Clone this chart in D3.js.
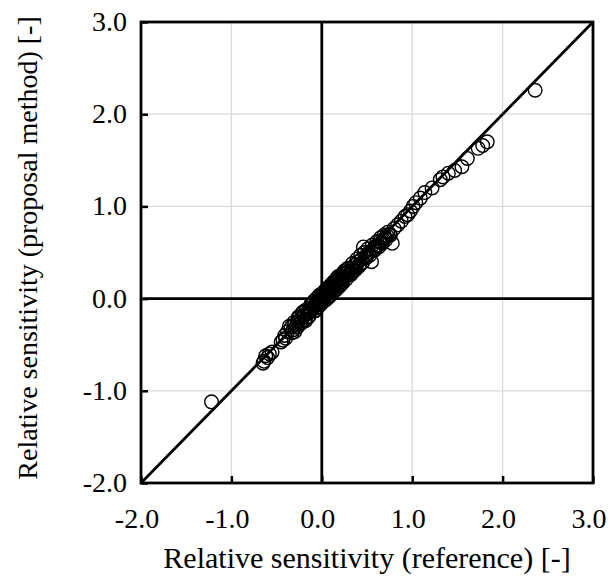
<!DOCTYPE html>
<html>
<head>
<meta charset="utf-8">
<script src="https://cdn.jsdelivr.net/npm/d3@7"></script>
<style>
  body { margin: 0; background: #fff; }
</style>
</head>
<body>
<svg id="chart" width="611" height="577"></svg>
<script>
// relative sensitivity, reference (x) vs proposal method (y)
let xRef = [-1.22, -0.64, -0.62, -0.60, -0.58, -0.55, -0.65, -0.45, -0.43, -0.41, -0.40, -0.38, -0.34, -0.32, -0.30,
    -0.28, -0.26, -0.24, -0.22, -0.20, -0.18, -0.16, -0.15, -0.13, -0.12, -0.10, -0.09, -0.08, -0.07, -0.06,
    -0.05, -0.04, -0.03, -0.02, -0.01, 0.00, 0.01, 0.02, 0.03, 0.04, 0.05, 0.06, 0.07, 0.08, 0.09,
    0.10, 0.11, 0.12, 0.13, 0.14, 0.15, 0.16, 0.18, 0.19, 0.20, 0.22, 0.23, 0.25, 0.26, 0.28,
    0.30, 0.31, 0.33, 0.35, 0.36, 0.38, 0.40, 0.42, 0.44, 0.46, 0.48, 0.50, 0.52, 0.55, 0.57,
    0.58, 0.60, 0.62, 0.64, 0.66, 0.68, 0.70, 0.72, 0.75, 0.78, 0.80, 0.84, 0.88, 0.92, 0.95,
    0.98, 1.01, 1.04, 1.09, 1.14, 1.22, 1.31, 1.34, 1.40, 1.47, 1.55, 1.61, 1.73, 1.78, 1.83, 2.36,
    -0.20, -0.15, -0.10, -0.05, 0.00, 0.05, 0.10, 0.15, 0.20, 0.25, -0.12, -0.02, 0.08, 0.18,
    -0.36, -0.33, -0.31, -0.27, -0.25, -0.23, -0.21, -0.19, -0.17, -0.14, -0.11, -0.08, -0.06, -0.04,
    -0.03, -0.01, 0.01, 0.02, 0.04, 0.06, 0.07, 0.09, 0.11, 0.12, 0.14, 0.16, 0.17, 0.19,
    0.21, 0.22, 0.24, 0.27, 0.29, 0.32, 0.34, 0.37, 0.39, 0.41, 0.43, 0.45, 0.47, 0.49,
    0.51, 0.53, 0.56, 0.59, 0.61, 0.63, 0.65, 0.67, 0.69, 0.71, 0.73, 0.76,
    -0.30, -0.22, -0.18, -0.09, -0.07, 0.03, 0.08, 0.13, 0.23, 0.28, 0.33, -0.26, 0.18, 0.05];
let yProp = [-1.12, -0.68, -0.62, -0.64, -0.60, -0.58, -0.70, -0.47, -0.45, -0.40, -0.43, -0.36, -0.31, -0.34, -0.28,
    -0.29, -0.25, -0.26, -0.21, -0.19, -0.17, -0.15, -0.16, -0.12, -0.13, -0.09, -0.10, -0.07, -0.08, -0.05,
    -0.06, -0.03, -0.04, -0.01, -0.02, 0.00, 0.02, 0.01, 0.04, 0.03, 0.06, 0.05, 0.08, 0.06, 0.10,
    0.08, 0.12, 0.10, 0.14, 0.12, 0.17, 0.14, 0.19, 0.16, 0.22, 0.20, 0.24, 0.22, 0.27, 0.25,
    0.30, 0.27, 0.33, 0.31, 0.36, 0.34, 0.40, 0.37, 0.43, 0.56, 0.45, 0.47, 0.50, 0.40, 0.52,
    0.55, 0.57, 0.58, 0.62, 0.61, 0.64, 0.66, 0.68, 0.70, 0.60, 0.76, 0.80, 0.84, 0.89, 0.91,
    0.95, 1.00, 1.04, 1.09, 1.15, 1.20, 1.29, 1.32, 1.36, 1.39, 1.43, 1.52, 1.63, 1.66, 1.70, 2.26,
    -0.14, -0.20, -0.05, -0.10, 0.05, -0.01, 0.15, 0.09, 0.14, 0.30, -0.06, 0.04, 0.02, 0.24,
    -0.30, -0.37, -0.26, -0.31, -0.20, -0.27, -0.15, -0.23, -0.12, -0.19, -0.06, -0.13, 0.00, -0.09,
    0.03, -0.06, 0.06, -0.03, 0.09, 0.01, 0.12, 0.04, 0.15, 0.07, 0.19, 0.10, 0.22, 0.13,
    0.25, 0.17, 0.28, 0.21, 0.33, 0.26, 0.38, 0.31, 0.43, 0.35, 0.47, 0.39, 0.50, 0.44,
    0.54, 0.47, 0.58, 0.53, 0.62, 0.56, 0.66, 0.60, 0.69, 0.64, 0.72, 0.69,
    -0.36, -0.16, -0.24, -0.03, -0.13, 0.08, 0.02, 0.18, 0.17, 0.32, 0.28, -0.20, 0.23, 0.10];
let tickValues = [-2, -1, 0, 1, 2, 3];
let xTitle = "Relative sensitivity (reference) [-]";
let yTitle = "Relative sensitivity (proposal method) [-]";

let fontFamily = "'Liberation Serif', 'Times New Roman', 'DejaVu Serif', serif";
let svg = d3.select("#chart");
let plotLeft = 141, plotRight = 593, plotTop = 22, plotBottom = 483;

let xScale = d3.scaleLinear().domain([-2, 3]).range([plotLeft, plotRight]);
let yScale = d3.scaleLinear().domain([-2, 3]).range([plotBottom, plotTop]);

// light gridlines
svg.selectAll(".vgrid")
    .data(tickValues)
    .enter()
    .append("line")
    .attr("x1", d => xScale(d)).attr("x2", d => xScale(d))
    .attr("y1", plotTop).attr("y2", plotBottom)
    .attr("stroke", "#d9d9d9")
    .attr("stroke-width", 1.3);
svg.selectAll(".hgrid")
    .data(tickValues)
    .enter()
    .append("line")
    .attr("x1", plotLeft).attr("x2", plotRight)
    .attr("y1", d => yScale(d)).attr("y2", d => yScale(d))
    .attr("stroke", "#d9d9d9")
    .attr("stroke-width", 1.3);

// axes with inside ticks, labels drawn separately
let xAxis = svg.append("g")
    .attr("transform", "translate(0," + plotBottom + ")")
    .call(d3.axisTop(xScale).tickValues(tickValues).tickSize(7).tickFormat(""));
let yAxis = svg.append("g")
    .attr("transform", "translate(" + plotLeft + ",0)")
    .call(d3.axisRight(yScale).tickValues(tickValues).tickSize(7).tickFormat(""));
[xAxis, yAxis].forEach(function(ax) {
    ax.select(".domain").remove();
    ax.selectAll("line").attr("stroke", "#000").attr("stroke-width", 2.5);
});

// zero lines
svg.append("line")
    .attr("x1", xScale(0)).attr("x2", xScale(0))
    .attr("y1", plotTop).attr("y2", plotBottom)
    .attr("stroke", "#000").attr("stroke-width", 2.8);
svg.append("line")
    .attr("x1", plotLeft).attr("x2", plotRight)
    .attr("y1", yScale(0)).attr("y2", yScale(0))
    .attr("stroke", "#000").attr("stroke-width", 2.8);

// plot border
svg.append("rect")
    .attr("x", plotLeft).attr("y", plotTop)
    .attr("width", plotRight - plotLeft).attr("height", plotBottom - plotTop)
    .attr("fill", "none")
    .attr("stroke", "#000")
    .attr("stroke-width", 2.8);

// y = x line
svg.append("line")
    .attr("x1", xScale(-2)).attr("y1", yScale(-2))
    .attr("x2", xScale(3)).attr("y2", yScale(3))
    .attr("stroke", "#000")
    .attr("stroke-width", 2.8);

// points
svg.selectAll(".pt")
    .data(xRef)
    .enter()
    .append("circle")
    .attr("cx", d => xScale(d))
    .attr("cy", (d, i) => yScale(yProp[i]))
    .attr("r", 6.8)
    .attr("fill", "none")
    .attr("stroke", "#000")
    .attr("stroke-width", 1.4);

// tick labels
let fmt = d => d3.format(".1f")(d).replace("\u2212", "-");
svg.selectAll(".xlab")
    .data(tickValues)
    .enter()
    .append("text")
    .attr("x", d => xScale(d) - 4)
    .attr("y", 528)
    .attr("text-anchor", "middle")
    .style("font-family", fontFamily)
    .style("font-size", "28px")
    .text(fmt);
svg.selectAll(".ylab")
    .data(tickValues)
    .enter()
    .append("text")
    .attr("x", 127)
    .attr("y", d => yScale(d) + 9)
    .attr("text-anchor", "end")
    .style("font-family", fontFamily)
    .style("font-size", "28px")
    .text(fmt);

// axis titles
svg.append("text")
    .attr("x", 367)
    .attr("y", 568)
    .attr("text-anchor", "middle")
    .style("font-family", fontFamily)
    .style("font-size", "30px")
    .text(xTitle);
svg.append("text")
    .attr("transform", "translate(37,248) rotate(-90)")
    .attr("text-anchor", "middle")
    .style("font-family", fontFamily)
    .style("font-size", "28px")
    .text(yTitle);
</script>
</body>
</html>
